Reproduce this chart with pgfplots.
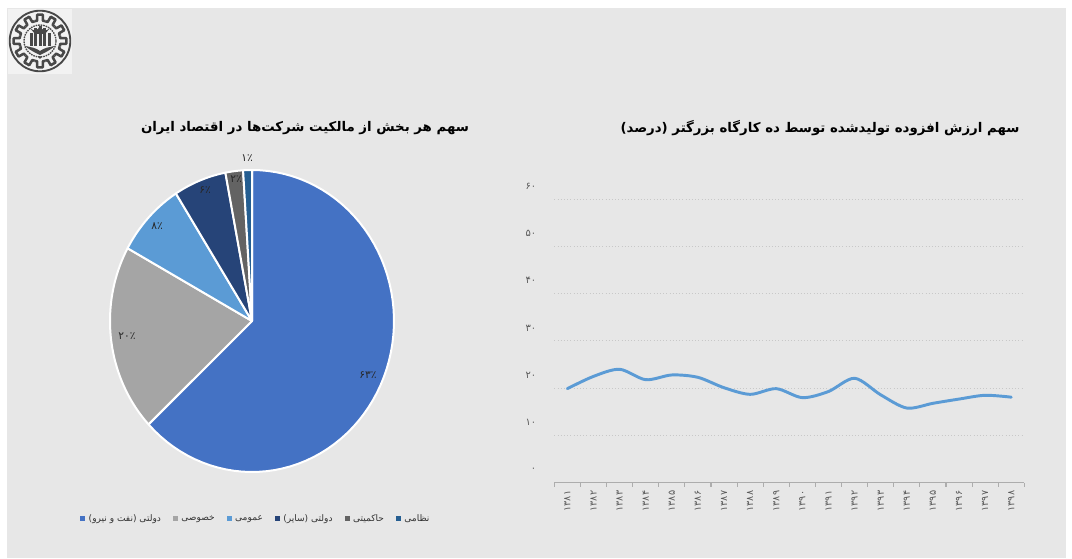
\documentclass[border=0pt]{standalone}
\usepackage{fontspec}
\usepackage{pgfplots}
\pgfplotsset{compat=1.18}
\usepackage{pgfplotstable}
\TeXXeTstate=1
\setmainfont{DejaVu Sans}
\newfontfamily\arfont[Script=Arabic]{DejaVu Sans}
\newcommand{\fapct}[1]{{\arfont #1\char"066A}}
\def\u{0.75pt}
\definecolor{panel}{HTML}{E7E7E7}
\definecolor{tickgray}{HTML}{595959}
\definecolor{gridgray}{HTML}{C8C8C8}
\definecolor{axisgray}{HTML}{ADADAD}
\definecolor{lineblue}{HTML}{5B9BD5}
\definecolor{sliceA}{HTML}{4472C4}
\definecolor{sliceB}{HTML}{A5A5A5}
\definecolor{sliceC}{HTML}{5B9BD5}
\definecolor{sliceD}{HTML}{264478}
\definecolor{sliceE}{HTML}{636363}
\definecolor{sliceF}{HTML}{255E91}
\definecolor{logoink}{HTML}{484848}

% share of value added by year index (1381 = 0)
\pgfplotstableread{
idx share
0  19.9
1  22.5
2  24.0
3  21.8
4  22.8
5  22.3
6  20.1
7  18.7
8  19.9
9  18.0
10 19.3
11 22.1
12 18.6
13 15.8
14 16.8
15 17.7
16 18.5
17 18.1
}\sharetable

% one pie sector, running clockwise from the top, bounds in percent
\newcommand{\sector}[3]{%
  \addplot[fill=#3,draw=white,line width=1.5pt,line join=round,domain=#1:#2,samples=70]
    ({sin(3.6*x)},{cos(3.6*x)}) -- (axis cs:0,0) -- cycle;}

\begin{document}
\begin{tikzpicture}
\path[use as bounding box] (0,0) rectangle ({1072*\u},{-559*\u});
\fill[white] (0,0) rectangle ({1072*\u},{-559*\u});
\fill[panel] ({7*\u},{-8*\u}) rectangle ({1066*\u},{-558*\u});

% emblem in the top corner
\fill[white!45!panel] ({8*\u},{-9*\u}) rectangle ({72*\u},{-74*\u});
\begin{scope}[shift={({40*\u},{-41*\u})},x=0.75pt,y=0.75pt]
  \draw[logoink,line width=1.4pt] (0,0) circle (30.3);
  \foreach \a in {0,30,...,330}{
    \draw[logoink,line width=1.9pt,line join=round]
      ({\a-15}:20.5) -- ({\a-8}:20.5) -- ({\a-6}:26.5) -- ({\a+6}:26.5) -- ({\a+8}:20.5) -- ({\a+15}:20.5);
  }
  \draw[logoink,line width=1pt,dash pattern=on 1.2pt off 0.7pt] (0,0) circle (16);
  \foreach \dx/\h in {-9/13,-4.5/18,0/20,4.5/18,9/13}{
    \fill[logoink] (\dx-1.5,-5) rectangle (\dx+1.5,-5+\h);
  }
  \fill[logoink] (-10,13) .. controls (-6,9) and (-2,10) .. (0,15.5) .. controls (2,10) and (6,9) .. (10,13) -- (5,7) -- (-5,7) -- cycle;
  \fill[logoink] (-15,-5) .. controls (-9,-6) and (-4,-7) .. (0,-10) .. controls (4,-7) and (9,-6) .. (15,-5) .. controls (9,-10) and (4,-12) .. (0,-14) .. controls (-4,-12) and (-9,-10) .. (-15,-5);
  \fill[logoink] (0,-16.5) circle (1.5);
\end{scope}

% titles
\node[font=\arfont\bfseries\fontsize{10}{12}\selectfont,text=black] at ({305*\u},{-128.5*\u})
  {\beginR سهم هر بخش از مالکیت شرکت‌ها در اقتصاد ایران\endR};
\node[font=\arfont\bfseries\fontsize{10}{12}\selectfont,text=black] at ({820*\u},{-128.5*\u})
  {\beginR سهم ارزش افزوده تولیدشده توسط ده کارگاه بزرگتر (درصد)\endR};

% line chart
\begin{axis}[
  at={({554.3*\u},{-482.7*\u})},anchor=south west,
  scale only axis,width={470*\u},height={283.5*\u},
  xmin=-0.5,xmax=17.5,ymin=0,ymax=60,
  axis x line*=bottom,axis y line*=left,
  x axis line style={axisgray,line width=1pt,-},
  y axis line style={draw=none},
  ytick={10,20,30,40,50,60},
  yticklabels={},
  ymajorgrids,
  grid style={gridgray,line width=0.8pt,dash pattern=on 0.8pt off 1.6pt},
  xtick={0,...,17},
  xticklabels={۱۳۸۱,۱۳۸۲,۱۳۸۳,۱۳۸۴,۱۳۸۵,۱۳۸۶,۱۳۸۷,۱۳۸۸,۱۳۸۹,۱۳۹۰,۱۳۹۱,۱۳۹۲,۱۳۹۳,۱۳۹۴,۱۳۹۵,۱۳۹۶,۱۳۹۷,۱۳۹۸},
  xticklabel style={font=\arfont\fontsize{7.2}{8}\selectfont,text=tickgray,rotate=90,anchor=east},
  major tick length=0pt,
  x tick label style={xshift=-2.5pt},
  extra x ticks={-0.5,0.5,1.5,2.5,3.5,4.5,5.5,6.5,7.5,8.5,9.5,10.5,11.5,12.5,13.5,14.5,15.5,16.5,17.5},
  extra x tick labels={},
  extra x tick style={major tick length=3pt,tick style={axisgray,line width=0.8pt,yshift=-3pt},xmajorgrids=false},
  clip=false,
]
\addplot[lineblue,line width=2.2pt,smooth,tension=0.5,line cap=round] table[x=idx,y=share]{\sharetable};
\end{axis}

% value scale, printed above its gridlines
\foreach \lab/\py in {۰/470,۱۰/422.5,۲۰/375,۳۰/328,۴۰/280.5,۵۰/233.5,۶۰/186}{
  \node[font=\arfont\fontsize{7.4}{8}\selectfont,text=tickgray,anchor=east] at ({541*\u},{-\py*\u}) {\lab};
}

% pie chart
\begin{axis}[
  at={({110*\u},{-472*\u})},anchor=south west,
  scale only axis,width={284*\u},height={302*\u},
  xmin=-1,xmax=1,ymin=-1,ymax=1,
  hide axis,clip=false,
  legend columns=6,
  legend style={at={(axis cs:0.03,-1.31)},anchor=center,draw=none,fill=none,
    font=\arfont\fontsize{6.8}{8}\selectfont,text=black!80,
    /tikz/every odd column/.append style={column sep=0.5pt},
    /tikz/every even column/.append style={column sep=7pt}},
  legend image code/.code={\fill[#1,draw=none] (0pt,-1.9pt) rectangle (3.8pt,1.9pt);},
  legend cell align=left,
]
\sector{0}{63}{sliceA}
\addlegendentry{\beginR دولتی (نفت و نیرو)\endR}
\sector{63}{83}{sliceB}
\addlegendentry{\beginR خصوصی\endR}
\sector{83}{91}{sliceC}
\addlegendentry{\beginR عمومی\endR}
\sector{91}{97}{sliceD}
\addlegendentry{\beginR دولتی (سایر)\endR}
\sector{97}{99}{sliceE}
\addlegendentry{\beginR حاکمیتی\endR}
\sector{99}{100}{sliceF}
\addlegendentry{\beginR نظامی\endR}
\end{axis}

% sector values
\foreach \lab/\px/\py in {۶۳/368/375,۲۰/127/336,۸/157/226,۶/205/190,۲/236/179,۱/247/158}{
  \node[font=\fontsize{8}{9}\selectfont,text=black!85] at ({\px*\u},{-\py*\u}) {\fapct{\lab}};
}
\end{tikzpicture}
\end{document}
